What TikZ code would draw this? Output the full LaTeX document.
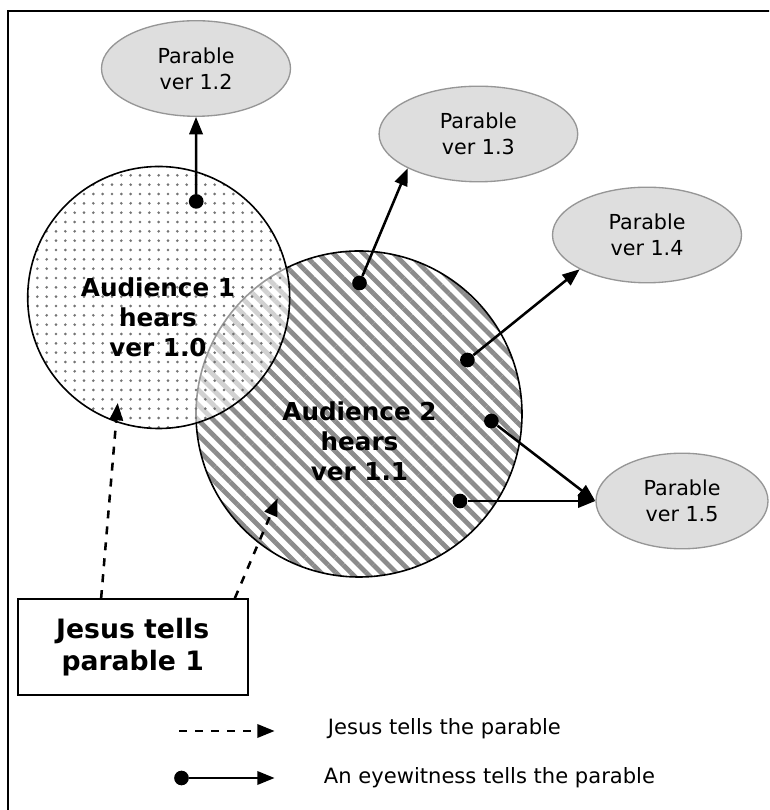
\documentclass[tikz,border=0pt]{standalone}
\usepackage{fontspec}
\setmainfont{DejaVu Sans}
\usetikzlibrary{arrows.meta,shapes.geometric,patterns.meta,calc}
\definecolor{ParableGray}{RGB}{222,222,222}
\definecolor{EdgeGray}{RGB}{150,150,150}
\definecolor{StripeGray}{RGB}{140,140,140}
\definecolor{DotGray}{RGB}{115,115,115}
\tikzset{
  parable/.style={ellipse,draw=EdgeGray,line width=1pt,fill=ParableGray,minimum height=71.7pt,
    inner sep=0pt,align=center,font=\fontsize{15.5}{19.4}\selectfont},
  audience/.style={circle,draw=black,line width=1.2pt,inner sep=0pt},
  hears/.style={align=center,font=\fontsize{18.5}{22.5}\selectfont\bfseries},
  witness/.style={circle,fill=black,inner sep=0pt,minimum size=11pt},
  tells/.style={line width=1.9pt,-{Triangle[length=13pt,width=10pt]}},
  jesus/.style={tells,dash pattern=on 6pt off 6pt},
  keytext/.style={anchor=west,inner sep=0pt,font=\fontsize{15.8}{19}\selectfont}
}

\begin{document}
\begin{tikzpicture}[x=0.75pt,y=0.75pt]
  \useasboundingbox (0,0) rectangle (769,810);
  \clip (0,0) rectangle (769,810);
  \draw[line width=1.5pt] (8,-20) rectangle (800,799);
  \node[audience,minimum size=244.5pt,pattern={Lines[angle=-45,distance=8pt,line width=3.6pt]},
    pattern color=StripeGray] (aud2) at (359,396) {};
  \node[audience,minimum size=196.5pt,preaction={fill=white,fill opacity=0.6},
    pattern={Dots[radius=1.1pt,distance=7pt]},pattern color=DotGray] (aud1) at (158.7,512.5) {};
  \node[hears] (aud1txt) at (158,493) {Audience 1\\hears\\ver 1.0};
  \node[hears] (aud2txt) at (359.5,369) {Audience 2\\hears\\ver 1.1};

  \node[parable,minimum width=141.75pt] (v12) at (196,741.5) {Parable\\ver 1.2};
  \node[parable,minimum width=149pt] (v13) at (478.4,676) {Parable\\ver 1.3};
  \node[parable,minimum width=141.75pt] (v14) at (647,575) {Parable\\ver 1.4};
  \node[parable,minimum width=129pt] (v15) at (682,309) {Parable\\ver 1.5};

  \node[witness] (w1) at (196.2,608.6) {};
  \node[witness] (w2) at (359.5,527) {};
  \node[witness] (w3) at (467.4,450) {};
  \node[witness] (w4) at (491.4,389) {};
  \node[witness] (w5) at (460,309) {};
  \draw[tells] (w1) -- (v12.south);
  \draw[tells] (w2) -- (v13.south west);
  \draw[tells] (w3) -- (v14.south west);
  \draw[tells] (w4) -- (v15.west);
  \draw[tells] (w5) -- (v15.west);

  \node[draw,line width=1.3pt,minimum width=172.5pt,minimum height=72pt,align=center,
    font=\fontsize{20}{24}\selectfont\bfseries] (teller) at (132.7,163) {Jesus tells\\parable 1};
  \coordinate (hear1) at (117.7,407);
  \coordinate (hear2) at (277.6,311.5);
  \draw[jesus] ($(teller.north west)+(84.3,0)$) -- (hear1);
  \draw[jesus] ($(teller.north east)+(-13.7,0)$) -- (hear2);

  \coordinate (key1a) at (179,79);
  \coordinate (key1b) at (274.6,79);
  \draw[jesus] (key1a) -- (key1b);
  \node[keytext] (key1txt) at (327.6,81) {Jesus tells the parable};
  \node[witness] (key2dot) at (181.5,32) {};
  \coordinate (key2b) at (274.6,32);
  \draw[tells] (key2dot) -- (key2b);
  \node[keytext] (key2txt) at (323.7,32) {An eyewitness tells the parable};
\end{tikzpicture}
\end{document}
